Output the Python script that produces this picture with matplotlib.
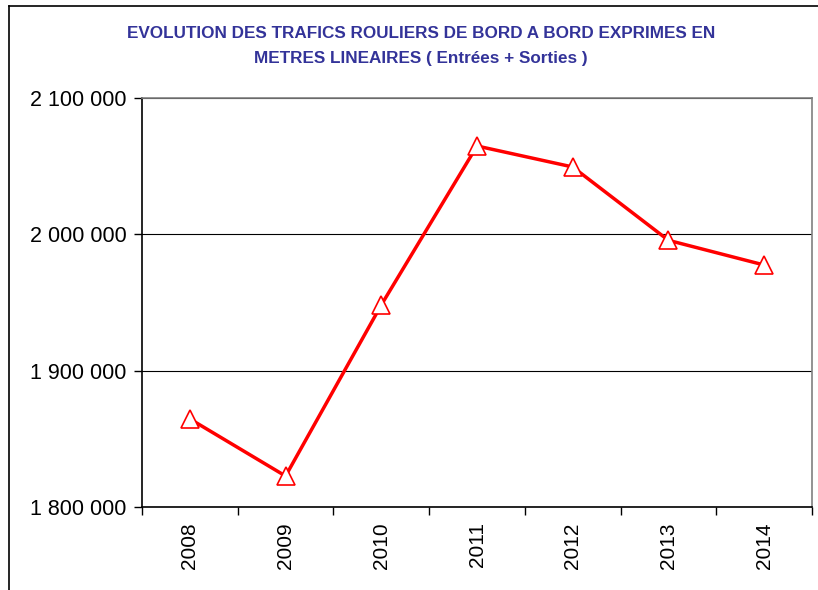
import matplotlib
matplotlib.use('Agg')
import matplotlib.pyplot as plt
from matplotlib.lines import Line2D

# --- DATA ---
years = ["2008", "2009", "2010", "2011", "2012", "2013", "2014"]
metres = [1864600, 1822700, 1948200, 2064800, 2049400, 1995600, 1977500]
y_ticks = [1800000, 1900000, 2000000, 2100000]
y_labels = ["1 800 000", "1 900 000", "2 000 000", "2 100 000"]

plt.rcParams['font.family'] = ['Liberation Sans', 'DejaVu Sans']

W, H = 818, 590
fig = plt.figure(figsize=(W / 100, H / 100), dpi=100)

# plot area in pixels
L, R, T, B = 142, 812, 98, 507
ax = fig.add_axes([L / W, 1 - B / H, (R - L) / W, (B - T) / H])

x = list(range(len(years)))
ax.plot(x, metres, color='#ff0000', linewidth=2.5, marker='^', markersize=12.5,
        markerfacecolor='white', markeredgecolor='#ff0000', markeredgewidth=1.2, zorder=3)

ax.set_xlim(-0.5, len(years) - 0.5)
ax.set_ylim(1800000, 2100000)
ax.set_yticks(y_ticks)
ax.set_yticklabels(y_labels, fontsize=15.5)
ax.yaxis.grid(True, color='black', linewidth=0.8)
ax.set_axisbelow(True)

# category labels centred, ticks at boundaries
ax.set_xticks(x)
ax.set_xticklabels(years, rotation=90, fontsize=15)
ax.tick_params(axis='x', length=0, pad=11)
ax.set_xticks([i - 0.5 for i in range(len(years) + 1)], minor=True)
ax.tick_params(axis='x', which='minor', length=6, width=1, color='black')
ax.tick_params(axis='y', length=6, width=1, pad=5)

for s in ['left', 'bottom']:
    ax.spines[s].set_color('black')
    ax.spines[s].set_linewidth(1.2)
for s in ['top', 'right']:
    ax.spines[s].set_color('#808080')
    ax.spines[s].set_linewidth(1.2)

# title
fig.text(421 / W, 1 - 33 / H, "EVOLUTION DES TRAFICS ROULIERS DE BORD A BORD EXPRIMES EN",
         ha='center', va='center', fontsize=12.3, fontweight='bold', color='#333399')
fig.text(421 / W, 1 - 59 / H, "METRES LINEAIRES ( Entrées + Sorties )",
         ha='center', va='center', fontsize=12.3, fontweight='bold', color='#333399')

# chart frame (left and top edges visible)
fig.add_artist(Line2D([9 / W, 9 / W], [0, 1 - 6 / H], color='black', linewidth=1.2))
fig.add_artist(Line2D([9 / W, 1], [1 - 6 / H, 1 - 6 / H], color='black', linewidth=1.2))

fig.savefig('out.png', dpi=100)
